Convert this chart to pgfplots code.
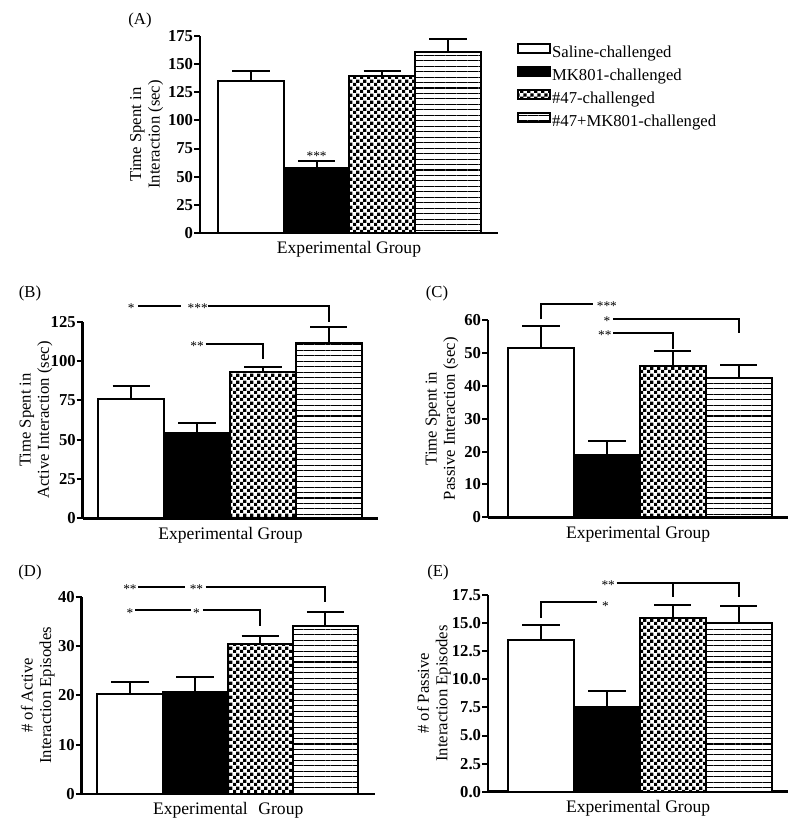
\documentclass[border=0pt]{standalone}
\usepackage{fontspec}
\setmainfont{Liberation Serif}
\usepackage{pgfplots}
\pgfplotsset{compat=1.18}
\usetikzlibrary{patterns,patterns.meta}
\pgfdeclarepatternformonly{mycheck}{\pgfpointorigin}{\pgfqpoint{5pt}{5pt}}{\pgfqpoint{5pt}{5pt}}{%
 \pgfpathrectangle{\pgfpointorigin}{\pgfqpoint{2.52pt}{2.52pt}}%
 \pgfpathrectangle{\pgfqpoint{2.5pt}{2.5pt}}{\pgfqpoint{2.52pt}{2.52pt}}%
 \pgfusepath{fill}}
\newcommand{\fsz}{\fontsize{12.5}{13.8}\selectfont}
\newcommand{\xsz}{\fontsize{13.2}{15}\selectfont}
\newcommand{\ssz}{\fontsize{10}{12}\selectfont}
\pgfplotsset{
 panel/.style={
  scale only axis, clip=false, anchor=south west,
  axis x line=bottom, axis y line=left,
  axis line style={-, line width=1.9pt, black},
  xtick=\empty, ymin=0,
  tick align=outside, major tick length=4.5pt,
  major tick style={black, line width=1.5pt},
  yticklabel style={font=\bfseries\fsz, inner sep=0.5pt},
  /pgf/number format/assume math mode=true,
  xlabel={Experimental Group},
  every axis x label/.style={at={(axis description cs:0.5,0)}, anchor=center, yshift=-12.5pt, font=\xsz},
 },
 eb/.style={error bars/.cd, y dir=plus, y explicit,
   error bar style={line width=1.5pt, black, solid},
   error mark options={rotate=90, mark size=14pt, line width=1.5pt, black}},
 bb/.style={ybar, bar width=1, bar shift=0pt, draw=black, line width=1.5pt},
 b1/.style={bb, fill=white, eb},
 b2/.style={bb, fill=black, eb},
 b3/.style={bb, fill=white, postaction={pattern=mycheck}, eb},
 b4/.style={bb, fill=white, postaction={pattern={Lines[angle=0,distance=4.1pt,line width=0.8pt]}}, eb},
}
\tikzset{
 sig/.style={line width=1.5pt},
 star/.style={font=\ssz, inner sep=0pt, anchor=base, yshift=-4.9pt},
}
\begin{document}
\begin{tikzpicture}
\path[use as bounding box] (0,0) rectangle (600pt,619.5pt);

% ---------- (A)
\begin{axis}[panel, at={(150pt,444.75pt)}, width=223.5pt, height=147.75pt,
  xmin=-0.774, xmax=3.76, ymax=175,
  ytick={0,25,50,75,100,125,150,175}, yticklabels={0,25,50,75,100,125,150,175},
  legend style={at={(axis description cs:1.064,0.968)}, anchor=north west, draw=none, fill=none,
     font=\fsz, inner sep=0pt, row sep=4.3pt, nodes={inner sep=0.6pt}},
  legend cell align=left,
  legend image code/.code={\draw[#1, line width=1.5pt] (0pt,-0.4pt) rectangle (24pt,6.6pt);},
]
\addplot[b1] coordinates {(0,135) +- (0,9)};
\addplot[b2] coordinates {(1,58) +- (0,5.7)};
\addplot[b3] coordinates {(2,139.5) +- (0,4.5)};
\addplot[b4] coordinates {(3,160.5) +- (0,11.5)};
\legend{Saline-challenged, MK801-challenged, \#47-challenged, \#47+MK801-challenged}
\node[star] at (axis cs:1,70.4) {***};
\node[font=\fsz, align=center, xshift=-40pt, rotate=90] at (axis description cs:0,0.5) {Time Spent in\\Interaction (sec)};
\end{axis}

% ---------- (B)
\begin{axis}[panel, at={(62pt,230.8pt)}, width=221.7pt, height=147.45pt,
  xmin=-0.737, xmax=3.752, ymax=125,
  ytick={0,25,50,75,100,125}, yticklabels={0,25,50,75,100,125},
]
\addplot[b1] coordinates {(0,75.6) +- (0,8.4)};
\addplot[b2] coordinates {(1,54.4) +- (0,6.4)};
\addplot[b3] coordinates {(2,92.8) +- (0,3.6)};
\addplot[b4] coordinates {(3,111.2) +- (0,10.2)};
\node[star] at (axis cs:0,134.7) {*};
\draw[sig] (axis cs:0.11,134.7) -- (axis cs:0.75,134.7);
\node[star] at (axis cs:1.01,134.7) {***};
\draw[sig] (axis cs:1.16,134.7) -- (axis cs:3,134.7) -- (axis cs:3,125);
\node[star] at (axis cs:1,110.8) {**};
\draw[sig] (axis cs:1.13,110.8) -- (axis cs:2,110.8) -- (axis cs:2,101);
\node[font=\fsz, align=center, xshift=-35pt, rotate=90] at (axis description cs:0,0.5) {Time Spent in\\Active Interaction (sec)};
\end{axis}

% ---------- (C)
\begin{axis}[panel, at={(366pt,231.5pt)}, width=225.2pt, height=148pt,
  xmin=-0.803, xmax=3.752, ymax=60,
  ytick={0,10,20,30,40,50,60}, yticklabels={0,10,20,30,40,50,60},
]
\addplot[b1] coordinates {(0,51.4) +- (0,6.8)};
\addplot[b2] coordinates {(1,18.9) +- (0,4.4)};
\addplot[b3] coordinates {(2,46.0) +- (0,4.6)};
\addplot[b4] coordinates {(3,42.3) +- (0,4.0)};
\draw[sig] (axis cs:0,60.2) -- (axis cs:0,64.9) -- (axis cs:0.79,64.9);
\node[star] at (axis cs:1,64.9) {***};
\node[star] at (axis cs:1,60.2) {*};
\draw[sig] (axis cs:1.09,60.2) -- (axis cs:3,60.2) -- (axis cs:3,55.9);
\node[star] at (axis cs:0.97,56.1) {**};
\draw[sig] (axis cs:1.1,56.1) -- (axis cs:2,56.1) -- (axis cs:2,51.2);
\node[font=\fsz, align=center, xshift=-34.5pt, rotate=90] at (axis description cs:0,0.5) {Time Spent in\\Passive Interaction (sec)};
\end{axis}

% ---------- (D)
\begin{axis}[panel, at={(61.3pt,24pt)}, width=219.7pt, height=148pt,
  xmin=-0.74, xmax=3.755, ymax=40,
  ytick={0,10,20,30,40}, yticklabels={0,10,20,30,40},
  xlabel={Experimental\hspace{0.6em}Group},
]
\addplot[b1] coordinates {(0,20.3) +- (0,2.5)};
\addplot[b2] coordinates {(1,20.6) +- (0,3.1)};
\addplot[b3] coordinates {(2,30.5) +- (0,1.5)};
\addplot[b4] coordinates {(3,34.1) +- (0,2.7)};
\node[star] at (axis cs:0,42) {**};
\draw[sig] (axis cs:0.13,42) -- (axis cs:0.85,42);
\node[star] at (axis cs:1.02,42) {**};
\draw[sig] (axis cs:1.16,42) -- (axis cs:3,42) -- (axis cs:3,39);
\node[star] at (axis cs:0,37.2) {*};
\draw[sig] (axis cs:0.08,37.2) -- (axis cs:0.93,37.2);
\node[star] at (axis cs:1.02,37.2) {*};
\draw[sig] (axis cs:1.12,37.2) -- (axis cs:2,37.2) -- (axis cs:2,34.1);
\node[font=\fsz, align=center, xshift=-33pt, rotate=90] at (axis description cs:0,0.5) {\# of Active\\Interaction Episodes};
\end{axis}

% ---------- (E)
\begin{axis}[panel, at={(366pt,25.7pt)}, width=225.2pt, height=147.5pt,
  xmin=-0.803, xmax=3.752, ymax=17.5,
  ytick={0,2.5,5,7.5,10,12.5,15,17.5}, yticklabels={0.0,2.5,5.0,7.5,10.0,12.5,15.0,17.5},
]
\addplot[b1] coordinates {(0,13.5) +- (0,1.3)};
\addplot[b2] coordinates {(1,7.5) +- (0,1.46)};
\addplot[b3] coordinates {(2,15.5) +- (0,1.1)};
\addplot[b4] coordinates {(3,15.0) +- (0,1.5)};
\draw[sig] (axis cs:0,15.5) -- (axis cs:0,16.9) -- (axis cs:0.85,16.9);
\node[star] at (axis cs:0.98,16.7) {*};
\node[star] at (axis cs:1.02,18.6) {**};
\draw[sig] (axis cs:1.15,18.6) -- (axis cs:3,18.6) -- (axis cs:3,17.35);
\draw[sig] (axis cs:2,18.6) -- (axis cs:2,17.35);
\node[font=\fsz, align=center, xshift=-40.5pt, rotate=90] at (axis description cs:0,0.5) {\# of Passive\\Interaction Episodes};
\end{axis}

\node[font=\fsz] at (105pt,604.5pt) {(A)};
\node[font=\fsz] at (22.5pt,399.75pt) {(B)};
\node[font=\fsz] at (327.75pt,399.75pt) {(C)};
\node[font=\fsz] at (22.5pt,190.5pt) {(D)};
\node[font=\fsz] at (328.5pt,190.5pt) {(E)};
\end{tikzpicture}
\end{document}
